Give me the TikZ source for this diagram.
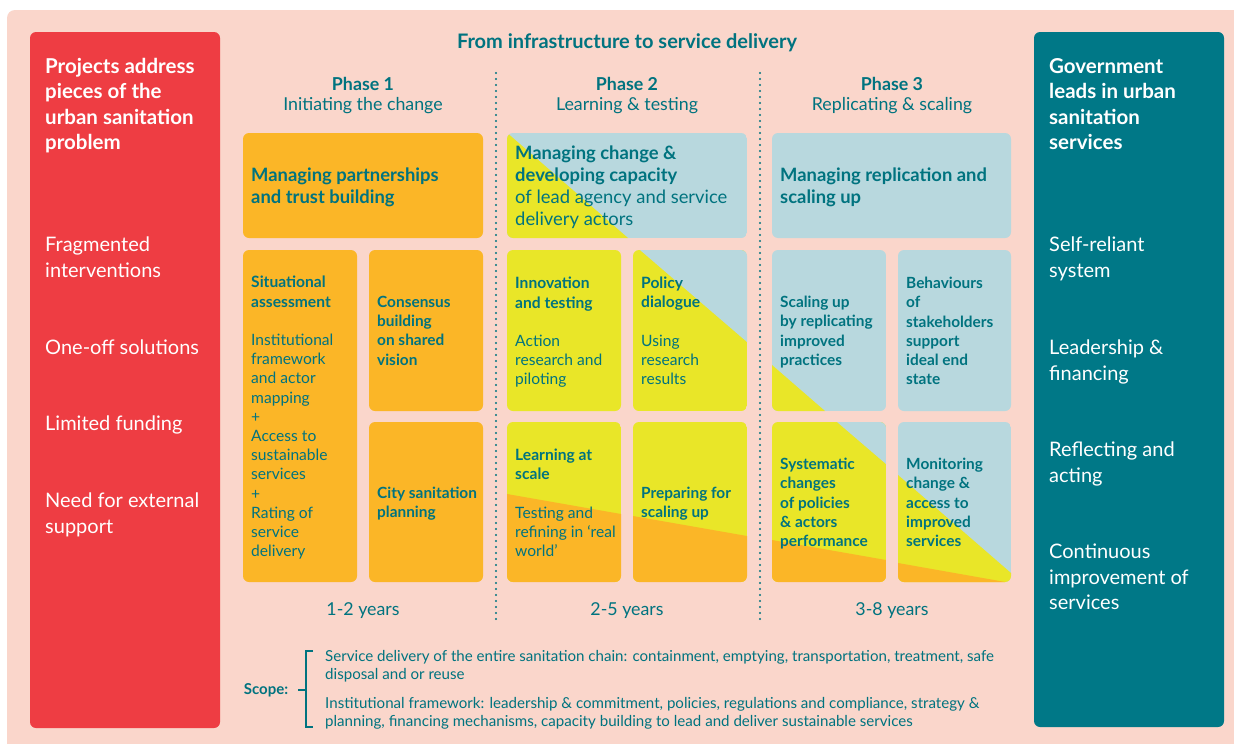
\documentclass[tikz,border=0pt]{standalone}
\usepackage{fontspec}
\setmainfont{Lato}
\definecolor{snpink}{HTML}{FAD6CB}
\definecolor{snred}{HTML}{EE3D43}
\definecolor{snteal}{HTML}{007887}
\definecolor{sntxt}{HTML}{00737F}
\definecolor{snorange}{HTML}{FBB627}
\definecolor{snyellow}{HTML}{E9E628}
\definecolor{snblue}{HTML}{B8D8DE}
\begin{document}
\begin{tikzpicture}[x=1pt,y=-1pt]
\tikzset{snpanel/.style={anchor=north west, inner sep=0pt, align=left, text=white,
		font=\fontsize{20}{25.5}\selectfont}}
\tikzset{snpanelb/.style={snpanel, font=\fontsize{20.5}{25.5}\selectfont\bfseries}}
\tikzset{sntext/.style={anchor=north west, inner sep=0pt, align=left, text=sntxt,
		font=\fontsize{15.6}{19.2}\selectfont}}
\tikzset{snbold/.style={sntext, font=\fontsize{15.4}{19.2}\selectfont\bfseries}}
\tikzset{snbig/.style={sntext, font=\fontsize{18.4}{22}\selectfont}}
\tikzset{snphase/.style={inner sep=0pt, text=sntxt, font=\fontsize{17.8}{22}\selectfont}}
\tikzset{snscope/.style={sntext, font=\fontsize{15.1}{18.5}\selectfont}}
\tikzset{sndots/.style={sntxt, line width=2.2pt, dash pattern=on 0pt off 6pt, line cap=round}}
\tikzset{sncard/.style={rounded corners=6pt}}

\useasboundingbox (0,0) rectangle (1234,744);
\fill[white] (0,0) rectangle (1234,744);
\fill[snpink, rounded corners=8pt] (7,10) rectangle (1250,760);

% side panels
\fill[snred, sncard] (30,32) rectangle (220,728);
\fill[snteal, sncard] (1034,32) rectangle (1224,727);

\node[snpanelb] (lhead) at (45,58) {Projects address\\pieces of the\\urban sanitation\\problem};
\node[snpanel] (l1) at (45,237) {Fragmented\\interventions};
\node[snpanel] (l2) at (45,340) {One-off solutions};
\node[snpanel] (l3) at (45,416) {Limited funding};
\node[snpanel] (l4) at (45,493) {Need for external\\support};

\node[snpanelb] (rhead) at (1049,58) {Government\\leads in urban\\sanitation\\services};
\node[snpanel] (r1) at (1049,237) {Self-reliant\\system};
\node[snpanel] (r2) at (1049,340) {Leadership \&\\financing};
\node[snpanel] (r3) at (1049,442) {Reflecting and\\acting};
\node[snpanel] (r4) at (1049,544) {Continuous\\improvement of\\services};

% headings
\node[snphase, font=\fontsize{20}{22}\selectfont\bfseries] (title) at (627,43) {From infrastructure to service delivery};
\node[snphase, font=\fontsize{17.8}{22}\selectfont\bfseries] (ph1) at (363,84) {Phase 1};
\node[snphase] (ph1s) at (363,106) {Initiating the change};
\node[snphase, font=\fontsize{17.8}{22}\selectfont\bfseries] (ph2) at (627,84) {Phase 2};
\node[snphase] (ph2s) at (627,106) {Learning \& testing};
\node[snphase, font=\fontsize{17.8}{22}\selectfont\bfseries] (ph3) at (892,84) {Phase 3};
\node[snphase] (ph3s) at (892,106) {Replicating \& scaling};

\draw[sndots] (496,73) -- (496,620);
\draw[sndots] (760,73) -- (760,620);

% phase 1
\fill[snorange, sncard] (243,133) rectangle (483,238);
\fill[snorange, sncard] (243,250) rectangle (357,582);
\fill[snorange, sncard] (369,250) rectangle (483,411);
\fill[snorange, sncard] (369,422) rectangle (483,582);

\node[snbig, font=\fontsize{18.4}{22}\selectfont\bfseries] (p1top) at (251,168) {Managing partnerships\\and trust building};
\node[sntext] (sa) at (251,276) {\textbf{Situational}\\\textbf{assessment}\\[19.2pt]Institutional\\framework\\and actor\\mapping\\+\\Access to\\sustainable\\services\\+\\Rating of\\service\\delivery};
\node[snbold] (cb) at (377,296) {Consensus\\building\\on shared\\vision};
\node[snbold] (cs) at (377,487) {City sanitation\\planning};

% phase 2
\begin{scope}
	\clip[sncard] (507,133) rectangle (747,238);
	\fill[snblue] (507,133) rectangle (747,238);
	\fill[snyellow] (505,131) -- (628,238) -- (505,238) -- cycle;
\end{scope}
\fill[snyellow, sncard] (507,250) rectangle (621,411);
\begin{scope}
	\clip[sncard] (633,250) rectangle (747,411);
	\fill[snyellow] (633,250) rectangle (747,411);
	\fill[snblue] (640,250) -- (747,250) -- (747,342) -- cycle;
\end{scope}
\begin{scope}
	\clip[sncard] (507,422) rectangle (621,582);
	\fill[snyellow] (507,422) rectangle (621,582);
	\fill[snorange] (507,494) -- (621,514) -- (621,582) -- (507,582) -- cycle;
\end{scope}
\begin{scope}
	\clip[sncard] (633,422) rectangle (747,582);
	\fill[snyellow] (633,422) rectangle (747,582);
	\fill[snorange] (633,516) -- (747,536) -- (747,582) -- (633,582) -- cycle;
\end{scope}

\node[snbig] (p2top) at (515,146) {\textbf{Managing change \&}\\\textbf{developing capacity}\\of lead agency and service\\delivery actors};
\node[sntext] (it) at (515,277) {\textbf{Innovation}\\\textbf{and testing}\\[19.2pt]Action\\research and\\piloting};
\node[sntext] (pd) at (641,277) {\textbf{Policy}\\\textbf{dialogue}\\[19.2pt]Using\\research\\results};
\node[sntext] (ls) at (515,449) {\textbf{Learning at}\\\textbf{scale}\\[19.2pt]Testing and\\refining in ‘real\\world’};
\node[snbold] (ps) at (641,487) {Preparing for\\scaling up};

% phase 3
\fill[snblue, sncard] (772,133) rectangle (1011,238);
\begin{scope}
	\clip[sncard] (772,250) rectangle (886,411);
	\fill[snblue] (772,250) rectangle (886,411);
	\fill[snyellow] (772,365) -- (825,411) -- (772,411) -- cycle;
\end{scope}
\fill[snblue, sncard] (898,250) rectangle (1011,411);
\begin{scope}
	\clip[sncard] (772,422) rectangle (886,582);
	\fill[snyellow] (772,422) rectangle (886,582);
	\fill[snblue] (837,422) -- (886,422) -- (886,464) -- cycle;
	\fill[snorange] (772,540) -- (886,560) -- (886,582) -- (772,582) -- cycle;
\end{scope}
\begin{scope}
	\clip[sncard] (898,422) rectangle (1011,582);
	\fill[snblue] (898,422) rectangle (1011,582);
	\fill[snyellow] (898,475) -- (1011,573) -- (1011,582) -- (898,582) -- cycle;
	\fill[snorange] (898,563) -- (1011,583) -- (898,583) -- cycle;
\end{scope}

\node[snbig, font=\fontsize{18.4}{22}\selectfont\bfseries] (p3top) at (780,168) {Managing replication and\\scaling up};
\node[snbold] (su) at (780,296) {Scaling up\\by replicating\\improved\\practices};
\node[snbold] (bh) at (906,277) {Behaviours\\of\\stakeholders\\support\\ideal end\\state};
\node[snbold] (sc) at (780,458) {Systematic\\changes\\of policies\\\& actors\\performance};
\node[snbold] (mo) at (906,458) {Monitoring\\change \&\\access to\\improved\\services};

% years
\node[snphase] (y1) at (363,611) {1-2 years};
\node[snphase] (y2) at (627,611) {2-5 years};
\node[snphase] (y3) at (892,611) {3-8 years};

% scope
\node[snphase, font=\fontsize{15}{18}\selectfont\bfseries] (scope) at (266,690) {Scope:};
\draw[sntxt, line width=2.5pt] (313,651) -- (306,651) -- (306,727) -- (313,727);
\draw[sntxt, line width=2.5pt] (298,690) -- (306,690);
\node[snscope] (sc1) at (325,650) {Service delivery of the entire sanitation chain: containment, emptying, transportation, treatment, safe\\disposal and or reuse};
\node[snscope] (sc2) at (325,697) {Institutional framework: leadership \& commitment, policies, regulations and compliance, strategy \&\\planning, financing mechanisms, capacity building to lead and deliver sustainable services};
\end{tikzpicture}
\end{document}
